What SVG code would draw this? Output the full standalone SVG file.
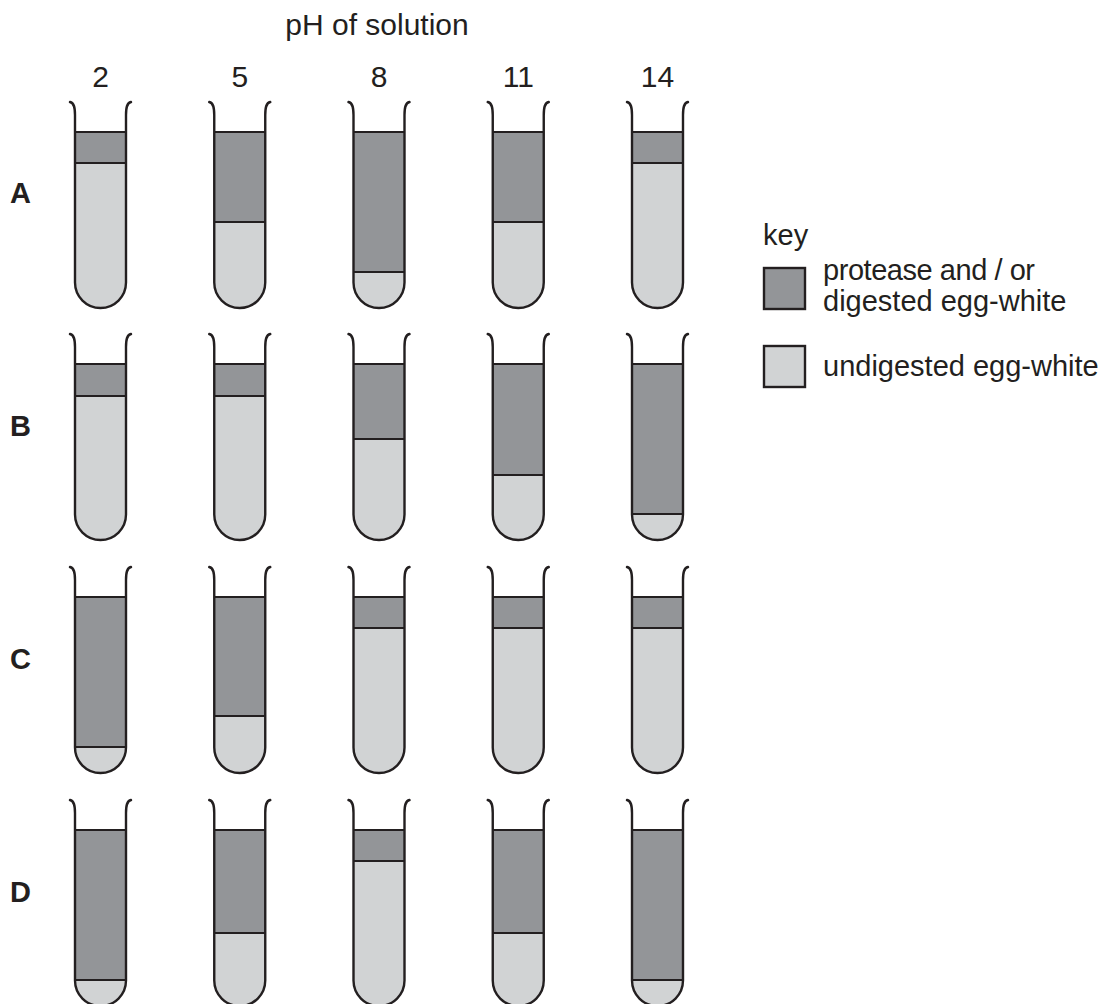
<svg xmlns="http://www.w3.org/2000/svg" xmlns:xlink="http://www.w3.org/1999/xlink" width="1108" height="1004" viewBox="0 0 1108 1004">
<style>
.lbl{font-family:"Liberation Sans",Arial,Helvetica,sans-serif;fill:#231f20}
.head{font-size:30px}
.row{font-size:29px;font-weight:bold}
.key{font-size:29px}
.light{fill:#d1d3d4}
.dark{fill:#939598}
.ln{stroke:#231f20;stroke-width:2;fill:none}
.out{stroke:#231f20;stroke-width:2.4;fill:none;stroke-linecap:round}
.box{stroke:#231f20;stroke-width:2.4}
</style>
<defs>
<path id="body" d="M0,30 L0,180.5 A25.5,25.5 0 0 0 51,180.5 L51,30 Z"/>
<path id="outline" d="M-5,0 C-1,1 0,5 0,13 L0,180.5 A25.5,25.5 0 0 0 51,180.5 L51,13 C51,5 52,1 56,0"/>
</defs>
<g id="header">
<text class="lbl head" x="377" y="35" text-anchor="middle">pH of solution</text>
<text class="lbl head" x="100.5" y="87" text-anchor="middle">2</text>
<text class="lbl head" x="239.75" y="87" text-anchor="middle">5</text>
<text class="lbl head" x="379" y="87" text-anchor="middle">8</text>
<text class="lbl head" x="518.25" y="87" text-anchor="middle">11</text>
<text class="lbl head" x="657.5" y="87" text-anchor="middle">14</text>
</g>
<g id="row-labels">
<text class="lbl row" x="10" y="203">A</text>
<text class="lbl row" x="10" y="436">B</text>
<text class="lbl row" x="10" y="669">C</text>
<text class="lbl row" x="10" y="902">D</text>
</g>
<g id="tube-A2" transform="translate(75,102)"><use href="#body" class="light"/><rect class="dark" x="0" y="30" width="51" height="31"/><line class="ln" x1="0" y1="30" x2="51" y2="30"/><line class="ln" x1="0" y1="61" x2="51" y2="61"/><use href="#outline" class="out"/></g>
<g id="tube-A5" transform="translate(214.25,102)"><use href="#body" class="light"/><rect class="dark" x="0" y="30" width="51" height="90"/><line class="ln" x1="0" y1="30" x2="51" y2="30"/><line class="ln" x1="0" y1="120" x2="51" y2="120"/><use href="#outline" class="out"/></g>
<g id="tube-A8" transform="translate(353.5,102)"><use href="#body" class="light"/><rect class="dark" x="0" y="30" width="51" height="140"/><line class="ln" x1="0" y1="30" x2="51" y2="30"/><line class="ln" x1="0" y1="170" x2="51" y2="170"/><use href="#outline" class="out"/></g>
<g id="tube-A11" transform="translate(492.75,102)"><use href="#body" class="light"/><rect class="dark" x="0" y="30" width="51" height="90"/><line class="ln" x1="0" y1="30" x2="51" y2="30"/><line class="ln" x1="0" y1="120" x2="51" y2="120"/><use href="#outline" class="out"/></g>
<g id="tube-A14" transform="translate(632,102)"><use href="#body" class="light"/><rect class="dark" x="0" y="30" width="51" height="31"/><line class="ln" x1="0" y1="30" x2="51" y2="30"/><line class="ln" x1="0" y1="61" x2="51" y2="61"/><use href="#outline" class="out"/></g>
<g id="tube-B2" transform="translate(75,334)"><use href="#body" class="light"/><rect class="dark" x="0" y="30" width="51" height="32"/><line class="ln" x1="0" y1="30" x2="51" y2="30"/><line class="ln" x1="0" y1="62" x2="51" y2="62"/><use href="#outline" class="out"/></g>
<g id="tube-B5" transform="translate(214.25,334)"><use href="#body" class="light"/><rect class="dark" x="0" y="30" width="51" height="32"/><line class="ln" x1="0" y1="30" x2="51" y2="30"/><line class="ln" x1="0" y1="62" x2="51" y2="62"/><use href="#outline" class="out"/></g>
<g id="tube-B8" transform="translate(353.5,334)"><use href="#body" class="light"/><rect class="dark" x="0" y="30" width="51" height="75"/><line class="ln" x1="0" y1="30" x2="51" y2="30"/><line class="ln" x1="0" y1="105" x2="51" y2="105"/><use href="#outline" class="out"/></g>
<g id="tube-B11" transform="translate(492.75,334)"><use href="#body" class="light"/><rect class="dark" x="0" y="30" width="51" height="111"/><line class="ln" x1="0" y1="30" x2="51" y2="30"/><line class="ln" x1="0" y1="141" x2="51" y2="141"/><use href="#outline" class="out"/></g>
<g id="tube-B14" transform="translate(632,334)"><use href="#body" class="light"/><rect class="dark" x="0" y="30" width="51" height="150"/><line class="ln" x1="0" y1="30" x2="51" y2="30"/><line class="ln" x1="0" y1="180" x2="51" y2="180"/><use href="#outline" class="out"/></g>
<g id="tube-C2" transform="translate(75,567)"><use href="#body" class="light"/><rect class="dark" x="0" y="30" width="51" height="150"/><line class="ln" x1="0" y1="30" x2="51" y2="30"/><line class="ln" x1="0" y1="180" x2="51" y2="180"/><use href="#outline" class="out"/></g>
<g id="tube-C5" transform="translate(214.25,567)"><use href="#body" class="light"/><rect class="dark" x="0" y="30" width="51" height="119"/><line class="ln" x1="0" y1="30" x2="51" y2="30"/><line class="ln" x1="0" y1="149" x2="51" y2="149"/><use href="#outline" class="out"/></g>
<g id="tube-C8" transform="translate(353.5,567)"><use href="#body" class="light"/><rect class="dark" x="0" y="30" width="51" height="31"/><line class="ln" x1="0" y1="30" x2="51" y2="30"/><line class="ln" x1="0" y1="61" x2="51" y2="61"/><use href="#outline" class="out"/></g>
<g id="tube-C11" transform="translate(492.75,567)"><use href="#body" class="light"/><rect class="dark" x="0" y="30" width="51" height="31"/><line class="ln" x1="0" y1="30" x2="51" y2="30"/><line class="ln" x1="0" y1="61" x2="51" y2="61"/><use href="#outline" class="out"/></g>
<g id="tube-C14" transform="translate(632,567)"><use href="#body" class="light"/><rect class="dark" x="0" y="30" width="51" height="31"/><line class="ln" x1="0" y1="30" x2="51" y2="30"/><line class="ln" x1="0" y1="61" x2="51" y2="61"/><use href="#outline" class="out"/></g>
<g id="tube-D2" transform="translate(75,800)"><use href="#body" class="light"/><rect class="dark" x="0" y="30" width="51" height="150"/><line class="ln" x1="0" y1="30" x2="51" y2="30"/><line class="ln" x1="0" y1="180" x2="51" y2="180"/><use href="#outline" class="out"/></g>
<g id="tube-D5" transform="translate(214.25,800)"><use href="#body" class="light"/><rect class="dark" x="0" y="30" width="51" height="103"/><line class="ln" x1="0" y1="30" x2="51" y2="30"/><line class="ln" x1="0" y1="133" x2="51" y2="133"/><use href="#outline" class="out"/></g>
<g id="tube-D8" transform="translate(353.5,800)"><use href="#body" class="light"/><rect class="dark" x="0" y="30" width="51" height="31"/><line class="ln" x1="0" y1="30" x2="51" y2="30"/><line class="ln" x1="0" y1="61" x2="51" y2="61"/><use href="#outline" class="out"/></g>
<g id="tube-D11" transform="translate(492.75,800)"><use href="#body" class="light"/><rect class="dark" x="0" y="30" width="51" height="103"/><line class="ln" x1="0" y1="30" x2="51" y2="30"/><line class="ln" x1="0" y1="133" x2="51" y2="133"/><use href="#outline" class="out"/></g>
<g id="tube-D14" transform="translate(632,800)"><use href="#body" class="light"/><rect class="dark" x="0" y="30" width="51" height="150"/><line class="ln" x1="0" y1="30" x2="51" y2="30"/><line class="ln" x1="0" y1="180" x2="51" y2="180"/><use href="#outline" class="out"/></g>
<g id="key">
<text class="lbl key" x="763" y="245">key</text>
<rect class="dark box" x="764" y="268" width="41" height="41"/>
<text class="lbl key" x="823" y="280" textLength="212" lengthAdjust="spacing">protease and / or</text>
<text class="lbl key" x="823" y="311">digested egg-white</text>
<rect class="light box" x="764" y="346" width="41" height="41"/>
<text class="lbl key" x="823" y="376">undigested egg-white</text>
</g>
</svg>
